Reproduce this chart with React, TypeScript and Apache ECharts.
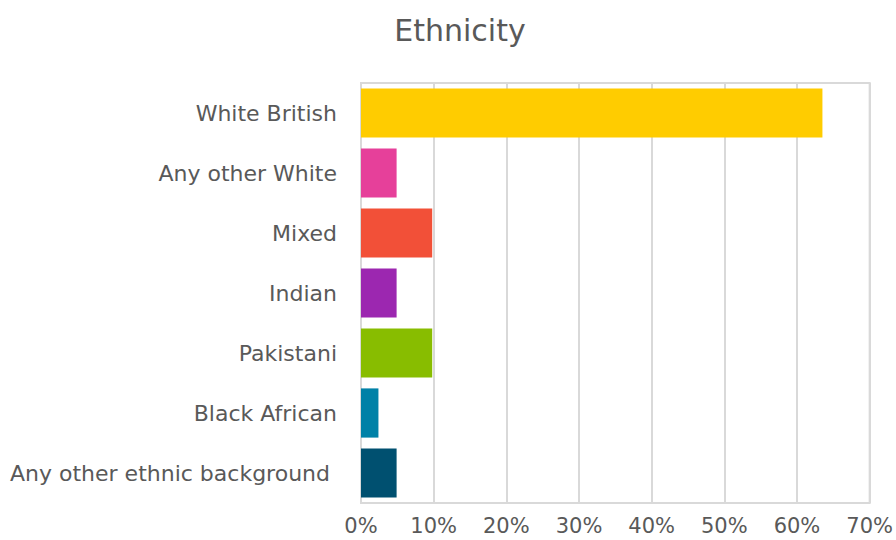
import React, { useEffect, useRef } from "react";
import * as echarts from "echarts";

const categories = [
  "White British",
  "Any other White",
  "Mixed",
  "Indian",
  "Pakistani",
  "Black African",
  "Any other ethnic background ",
];
const values = [63.5, 4.9, 9.8, 4.9, 9.8, 2.4, 4.9];
const colors = ["#FFCC00", "#E6409A", "#F25038", "#9C27B0", "#88BD00", "#0081A7", "#005070"];
const xTicks = { min: 0, max: 70, interval: 10 };

export default function App() {
  const ref = useRef<HTMLDivElement>(null);
  useEffect(() => {
    if (!ref.current) return;
    const chart = echarts.init(ref.current, undefined, { renderer: "svg" });
    const font = "'DejaVu Sans', sans-serif";
    chart.setOption({
      animation: false,
      backgroundColor: "#ffffff",
      title: {
        text: "Ethnicity",
        left: 455,
        top: 10,
        textAlign: "center",
        textStyle: { color: "#595959", fontSize: 30, fontWeight: "normal", fontFamily: font },
      },
      grid: {
        left: 361,
        right: 20,
        top: 83,
        bottom: 37,
        show: true,
        borderColor: "#d9d9d9",
        borderWidth: 2,
        containLabel: false,
      },
      xAxis: {
        type: "value",
        min: xTicks.min,
        max: xTicks.max,
        interval: xTicks.interval,
        axisLine: { show: false },
        axisTick: { show: false },
        splitLine: { show: true, lineStyle: { color: "#d9d9d9", width: 2 } },
        axisLabel: {
          formatter: "{value}%",
          color: "#595959",
          fontSize: 21,
          fontFamily: font,
          margin: 12,
        },
      },
      yAxis: {
        type: "category",
        inverse: true,
        data: categories,
        axisLine: { show: true, lineStyle: { color: "#d9d9d9", width: 2 } },
        axisTick: { show: false },
        axisLabel: { color: "#595959", fontSize: 22, fontFamily: font, margin: 24 },
      },
      series: [
        {
          type: "bar",
          barCategoryGap: "18%",
          data: values.map((v, i) => ({ value: v, itemStyle: { color: colors[i] } })),
        },
      ],
    });
    return () => chart.dispose();
  }, []);
  return (
    <div
      ref={ref}
      style={{ position: "fixed", left: 0, top: 0, width: 896, height: 540 }}
    />
  );
}
